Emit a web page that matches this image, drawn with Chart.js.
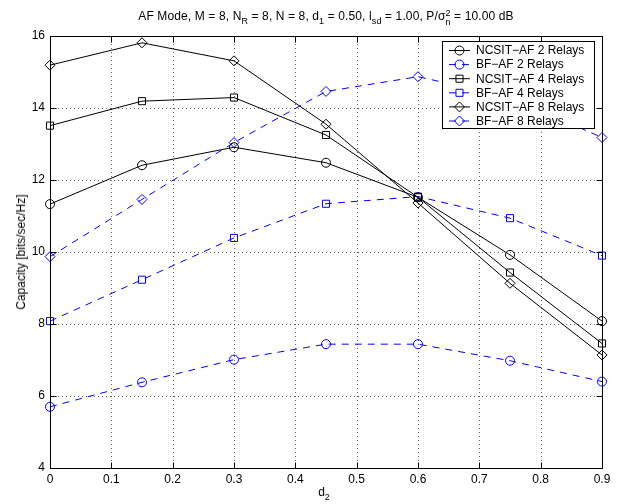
<!DOCTYPE html>
<html>
<head>
<meta charset="utf-8">
<script src="https://cdn.jsdelivr.net/npm/chart.js@4.4.1/dist/chart.umd.min.js"></script>
<style>
  html, body { margin: 0; padding: 0; background: #fff; }
  #wrap { position: relative; width: 619px; height: 504px; font-family: "Liberation Sans", Arial, Helvetica, sans-serif; color: #000; }
  #chart { position: absolute; left: 0; top: 0; }
  .lbl { position: absolute; white-space: nowrap; line-height: 1; }
  #title { left: 326px; top: 9px; transform: translateX(-50%); font-size: 12px; letter-spacing: 0.12px; }
  #xlabel { left: 324px; top: 486px; transform: translateX(-50%); font-size: 12px; }
  #ylabel { left: 21px; top: 252px; transform: translate(-50%, -50%) rotate(-90deg); font-size: 12px; }
  sub { font-size: 75%; vertical-align: -0.45em; line-height: 0; }
  .ss { display: inline-flex; flex-direction: column; font-size: 75%; line-height: 1; vertical-align: 0.45em; }
</style>
</head>
<body>
<div id="wrap">
  <canvas id="chart" width="619" height="504"></canvas>
  <div id="title" class="lbl">AF Mode, M = 8, N<sub>R</sub> = 8, N = 8, d<sub>1</sub> = 0.50, l<sub>sd</sub> = 1.00, P/σ<span class="ss"><span>2</span><span>n</span></span> = 10.00 dB</div>
  <div id="xlabel" class="lbl">d<sub>2</sub></div>
  <div id="ylabel" class="lbl">Capacity [bits/sec/Hz]</div>
</div>
<script>
    // values
    const d2 = [0, 0.15, 0.3, 0.45, 0.6, 0.75, 0.9];
    const ncsit2 = [11.33, 12.41, 12.91, 12.48, 11.52, 9.92, 8.08];
    const bf2 = [5.70, 6.38, 7.01, 7.44, 7.44, 6.98, 6.40];
    const ncsit4 = [13.51, 14.19, 14.29, 13.25, 11.52, 9.43, 7.46];
    const bf4 = [8.08, 9.23, 10.39, 11.34, 11.54, 10.94, 9.90];
    const ncsit8 = [15.19, 15.81, 15.31, 13.55, 11.36, 9.13, 7.14];
    const bf8 = [9.87, 11.46, 13.04, 14.46, 14.87, 14.30, 13.18];

    const seriesNames = ['NCSIT\u2212AF 2 Relays', 'BF\u2212AF 2 Relays', 'NCSIT\u2212AF 4 Relays',
        'BF\u2212AF 4 Relays', 'NCSIT\u2212AF 8 Relays', 'BF\u2212AF 8 Relays'];

    const xTicks = [0, 0.1, 0.2, 0.3, 0.4, 0.5, 0.6, 0.7, 0.8, 0.9];
    const yTicks = [4, 6, 8, 10, 12, 14, 16];

    const dashed = [7, 6];

    function toPoints(ys) {
        return d2.map((x, i) => ({ x: x, y: ys[i] }));
    }

    function makeSet(label, ys, color, style, radius, dash) {
        return {
            label: label,
            data: toPoints(ys),
            borderColor: color,
            borderWidth: 1,
            borderDash: dash || [],
            fill: false,
            tension: 0,
            clip: false,
            pointStyle: style,
            pointRadius: radius,
            pointHoverRadius: radius,
            pointBorderColor: color,
            pointBackgroundColor: 'rgba(0,0,0,0)',
            pointBorderWidth: 1
        };
    }

    function drawMarker(ctx, style, r, x, y) {
        ctx.beginPath();
        if (style === 'circle') {
            ctx.arc(x, y, r, 0, Math.PI * 2);
        } else if (style === 'rect') {
            const s = r * Math.SQRT1_2;
            ctx.rect(x - s, y - s, 2 * s, 2 * s);
        } else {
            ctx.moveTo(x, y - r);
            ctx.lineTo(x + r, y);
            ctx.lineTo(x, y + r);
            ctx.lineTo(x - r, y);
            ctx.closePath();
        }
        ctx.stroke();
    }

    // grid, box with inward ticks and the legend, matlab style
    const matlabAxes = {
        id: 'matlabAxes',
        beforeDatasetsDraw(chart) {
            const ctx = chart.ctx, a = chart.chartArea;
            const xs = chart.scales.x, ys = chart.scales.y;
            ctx.save();
            ctx.strokeStyle = 'rgba(0,0,0,0.6)';
            ctx.lineWidth = 1;
            ctx.setLineDash([1, 3]);
            xTicks.slice(1, -1).forEach(v => {
                const px = Math.round(xs.getPixelForValue(v)) + 0.5;
                ctx.beginPath(); ctx.moveTo(px, a.top); ctx.lineTo(px, a.bottom); ctx.stroke();
            });
            yTicks.slice(1, -1).forEach(v => {
                const py = Math.round(ys.getPixelForValue(v)) + 0.5;
                ctx.beginPath(); ctx.moveTo(a.left, py); ctx.lineTo(a.right, py); ctx.stroke();
            });
            ctx.restore();
        },
        afterDatasetsDraw(chart) {
            const ctx = chart.ctx, a = chart.chartArea;
            const xs = chart.scales.x, ys = chart.scales.y;
            const L = Math.round(a.left) + 0.5, R = Math.round(a.right) + 0.5;
            const T = Math.round(a.top) + 0.5, B = Math.round(a.bottom) + 0.5;
            const tl = 6;
            ctx.save();
            ctx.strokeStyle = '#000';
            ctx.lineWidth = 1;
            ctx.strokeRect(L, T, R - L, B - T);
            ctx.beginPath();
            xTicks.forEach(v => {
                const px = Math.round(xs.getPixelForValue(v)) + 0.5;
                ctx.moveTo(px, B); ctx.lineTo(px, B - tl);
                ctx.moveTo(px, T); ctx.lineTo(px, T + tl);
            });
            yTicks.forEach(v => {
                const py = Math.round(ys.getPixelForValue(v)) + 0.5;
                ctx.moveTo(L, py); ctx.lineTo(L + tl, py);
                ctx.moveTo(R, py); ctx.lineTo(R - tl, py);
            });
            ctx.stroke();
            ctx.restore();
        },
        afterDraw(chart) {
            const ctx = chart.ctx;
            const bx = 442.5, by = 41.5, bw = 152, bh = 87;
            ctx.save();
            ctx.fillStyle = '#fff';
            ctx.fillRect(bx, by, bw, bh);
            ctx.strokeStyle = '#000';
            ctx.lineWidth = 1;
            ctx.strokeRect(bx, by, bw, bh);
            ctx.font = '12px "Liberation Sans", Arial, sans-serif';
            ctx.textBaseline = 'middle';
            chart.data.datasets.forEach((ds, i) => {
                const y = 50.5 + i * 14.1;
                ctx.strokeStyle = ds.borderColor;
                ctx.setLineDash(ds.borderDash);
                ctx.beginPath(); ctx.moveTo(449, y); ctx.lineTo(470, y); ctx.stroke();
                ctx.setLineDash([]);
                drawMarker(ctx, ds.pointStyle, ds.pointRadius, 459.5, y);
                ctx.fillStyle = '#000';
                ctx.fillText(ds.label, 476, y + 0.5);
            });
            ctx.restore();
        }
    };

    const tickFont = { family: '"Liberation Sans", Arial, sans-serif', size: 12 };

    new Chart(document.getElementById('chart'), {
        type: 'line',
        data: {
            datasets: [
                makeSet(seriesNames[0], ncsit2, '#000000', 'circle', 4.5),
                makeSet(seriesNames[1], bf2, '#0000ff', 'circle', 4.5, dashed),
                makeSet(seriesNames[2], ncsit4, '#000000', 'rect', 5),
                makeSet(seriesNames[3], bf4, '#0000ff', 'rect', 5, dashed),
                makeSet(seriesNames[4], ncsit8, '#000000', 'rectRot', 5),
                makeSet(seriesNames[5], bf8, '#0000ff', 'rectRot', 5, dashed)
            ]
        },
        options: {
            responsive: false,
            animation: false,
            events: [],
            layout: { padding: { top: 36, right: 17, left: 0, bottom: 16 } },
            plugins: {
                legend: { display: false },
                title: { display: false },
                tooltip: { enabled: false }
            },
            scales: {
                x: {
                    type: 'linear',
                    min: 0,
                    max: 0.9,
                    afterBuildTicks: s => { s.ticks = xTicks.map(v => ({ value: v })); },
                    afterFit: s => { s.height = 20; },
                    grid: { display: false, drawTicks: false },
                    border: { display: false },
                    ticks: { color: '#000', font: tickFont, padding: 4, maxRotation: 0,
                        callback: v => String(v) }
                },
                y: {
                    type: 'linear',
                    min: 4,
                    max: 16,
                    afterBuildTicks: s => { s.ticks = yTicks.map(v => ({ value: v })); },
                    afterFit: s => { s.width = 50; },
                    grid: { display: false, drawTicks: false },
                    border: { display: false },
                    ticks: { color: '#000', font: tickFont, padding: 5,
                        callback: v => String(v) }
                }
            }
        },
        plugins: [matlabAxes]
    });
</script>
</body>
</html>
